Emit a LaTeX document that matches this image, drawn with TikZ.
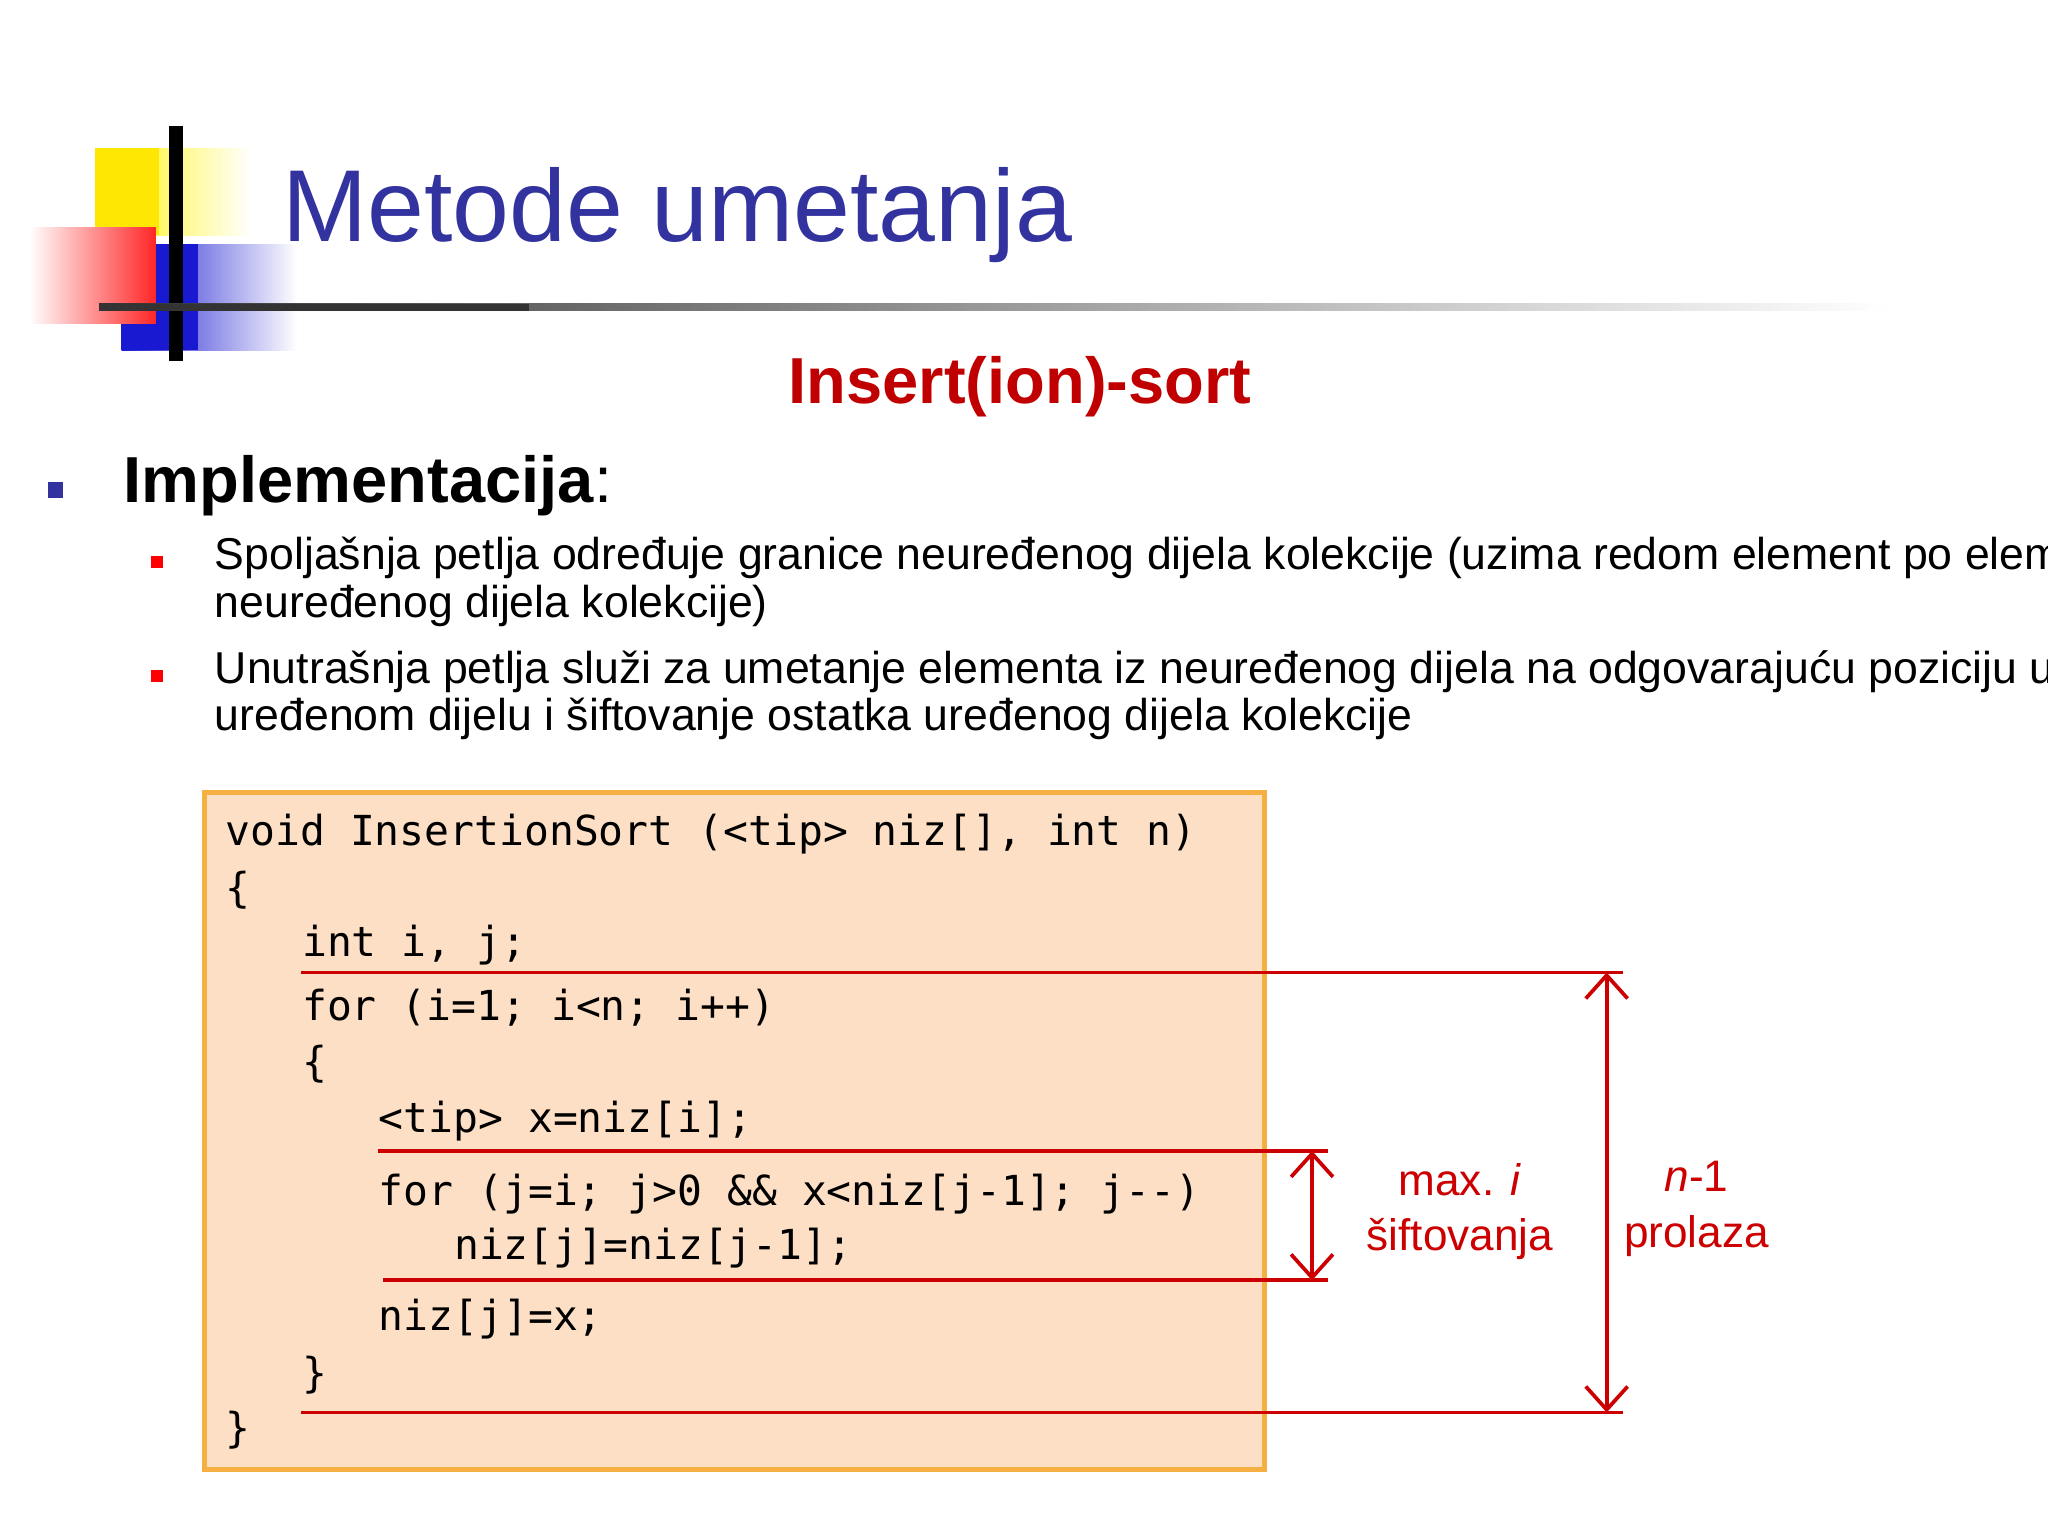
\documentclass[tikz,border=0pt]{standalone}
\usepackage{fontspec}
\usetikzlibrary{arrows.meta}
\setmainfont{Liberation Sans}
\setmonofont{DejaVu Sans Mono}
\definecolor{tblue}{HTML}{3333A0}
\definecolor{dred}{HTML}{C00000}
\definecolor{lred}{HTML}{CC0000}
\definecolor{peach}{HTML}{FCDFC4}
\definecolor{orng}{HTML}{F4B040}
\tikzset{
  P/.style={x=0.01cm,y=-0.01cm},
  code/.style={anchor=base west,font=\ttfamily\fontsize{8.9}{11}\selectfont,inner sep=0},
  rl/.style={draw=lred,line width=0.8pt},
  tips/.style={{Straight Barb[length=5pt,width=9pt]}-{Straight Barb[length=5pt,width=9pt]}},
  lbl/.style={text=lred,font=\fontsize{9.5}{12}\selectfont,align=center},
  txt/.style={anchor=base west,font=\fontsize{9.6}{11}\selectfont,inner sep=0}
}
\begin{document}
\begin{tikzpicture}[P]
\useasboundingbox (0,0) rectangle (1550,1162);
% logo
\shade[left color=yellow!90!orange,right color=white] (72,112) rectangle (190,178);
\fill[yellow!90!orange] (72,112) rectangle (120,178);
\shade[left color=blue!80!black!90,right color=white] (92,185) rectangle (225,265);
\fill[blue!80!black!90] (92,185) rectangle (150,265);
\shade[left color=white,right color=red!85] (22,172) rectangle (118,245);
\draw[line width=3pt] (133,95) -- (133,273);
\shade[left color=black!80,right color=white] (75,230) rectangle (1430,235);
\fill[black!80] (75,230) rectangle (400,235);
\node[anchor=base west,text=tblue,font=\fontsize{22}{26}\selectfont,inner sep=0] (title) at (213,183) {Metode umetanja};
\node[anchor=base,text=dred,font=\bfseries\fontsize{14}{17}\selectfont,inner sep=0] (sub) at (772,305) {Insert(ion)-sort};
\fill[tblue] (36,365) rectangle (48,377);
\node[anchor=base west,font=\fontsize{14}{17}\selectfont,inner sep=0] (impl) at (93,380) {\textbf{Implementacija}:};
\fill[red] (114,421) rectangle (123,430);
\fill[red] (114,507) rectangle (123,516);
\node[txt] (b1a) at (162,431) {Spoljašnja petlja određuje granice neuređenog dijela kolekcije (uzima redom element po element iz};
\node[txt] (b1b) at (162,467) {neuređenog dijela kolekcije)};
\node[txt] (b2a) at (162,517) {Unutrašnja petlja služi za umetanje elementa iz neuređenog dijela na odgovarajuću poziciju u};
\node[txt] (b2b) at (162,553) {uređenom dijelu i šiftovanje ostatka uređenog dijela kolekcije};
% code box
\draw[fill=peach,draw=orng,line width=1pt] (155,600) rectangle (957,1112);
\node[code] at (170,640) {void InsertionSort (<tip> niz[], int n)};
\node[code] at (170,683) {\{};
\node[code] at (228,724) {int i, j;};
\node[code] at (228,772) {for (i=1; i<n; i++)};
\node[code] at (228,815) {\{};
\node[code] at (286,857) {<tip> x=niz[i];};
\node[code] at (286,912) {for (j=i; j>0 \&\& x<niz[j-1]; j--)};
\node[code] at (343,953) {niz[j]=niz[j-1];};
\node[code] at (286,1007) {niz[j]=x;};
\node[code] at (228,1050) {\}};
\node[code] at (170,1092) {\}};
% lines
\coordinate (a1) at (228,736); \coordinate (a2) at (1228,736);
\coordinate (b1) at (286,871); \coordinate (b2) at (1005,871);
\coordinate (c1) at (290,969); \coordinate (c2) at (1005,969);
\coordinate (d1) at (228,1069); \coordinate (d2) at (1228,1069);
\draw[rl] (a1) -- (a2); \draw[rl] (b1) -- (b2); \draw[rl] (c1) -- (c2); \draw[rl] (d1) -- (d2);
\coordinate (u1) at (1216,736); \coordinate (u2) at (1216,1069);
\coordinate (v1) at (993,871); \coordinate (v2) at (993,969);
\draw[rl,tips] (u1) -- (u2);
\draw[rl,tips] (v1) -- (v2);
\node[lbl] (l1) at (1105,917) {max. \textit{i}\\šiftovanja};
\node[lbl] (l2) at (1284,915) {\textit{n}-1\\prolaza};
\end{tikzpicture}
\end{document}
